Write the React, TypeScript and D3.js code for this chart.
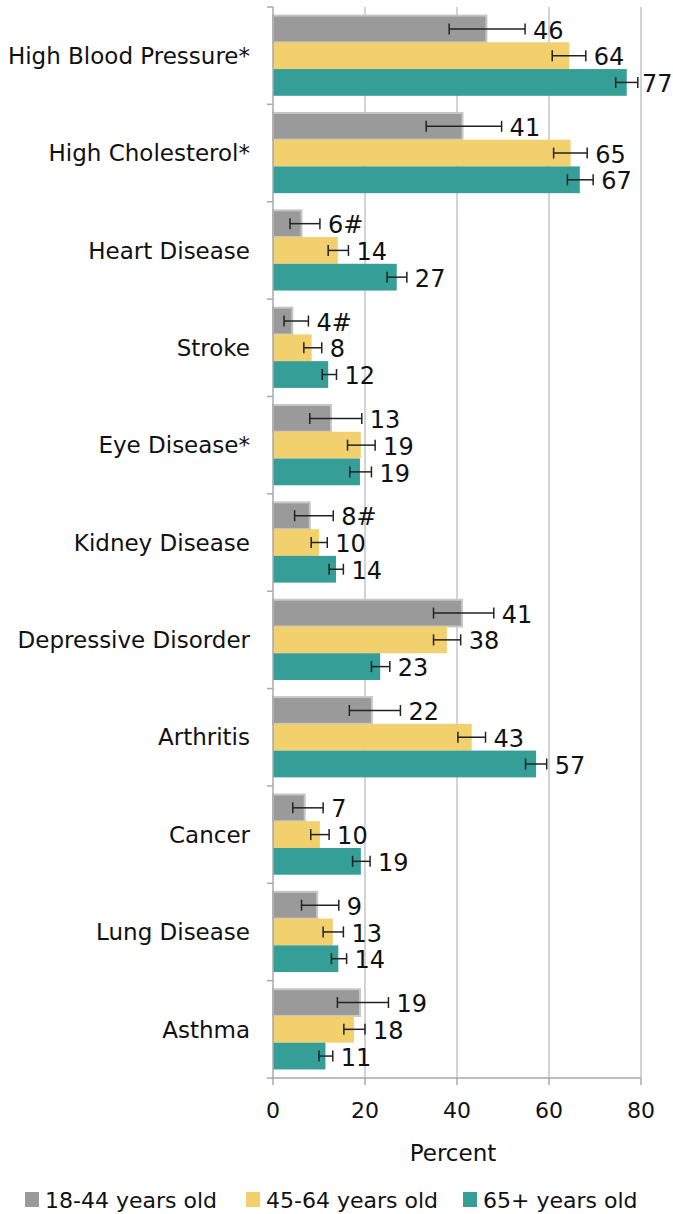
import React from "react";
import * as d3 from "d3";

const categories = [
  "High Blood Pressure*",
  "High Cholesterol*",
  "Heart Disease",
  "Stroke",
  "Eye Disease*",
  "Kidney Disease",
  "Depressive Disorder",
  "Arthritis",
  "Cancer",
  "Lung Disease",
  "Asthma",
];

const seriesNames = ["18-44 years old", "45-64 years old", "65+ years old"];
const seriesColors = ["#9a9a9a", "#f2d06e", "#359e96"];

const youngValues = [46.4, 41.2, 6.2, 4.2, 12.6, 8.0, 41.1, 21.5, 6.9, 9.6, 18.9];
const youngLow = [38.3, 33.3, 3.7, 2.4, 8.0, 4.7, 34.9, 16.6, 4.3, 6.2, 14.0];
const youngHigh = [54.8, 49.7, 10.2, 7.7, 19.3, 13.1, 48.0, 27.7, 10.9, 14.3, 25.1];
const youngLabels = ["46", "41", "6#", "4#", "13", "8#", "41", "22", "7", "9", "19"];

const midValues = [64.4, 64.7, 14.1, 8.4, 19.1, 10.0, 37.8, 43.2, 10.2, 13.0, 17.6];
const midLow = [60.7, 61.0, 12.0, 6.7, 16.2, 8.3, 34.9, 40.2, 8.2, 10.9, 15.4];
const midHigh = [68.0, 68.3, 16.4, 10.6, 22.2, 11.8, 40.8, 46.2, 12.2, 15.3, 20.0];
const midLabels = ["64", "65", "14", "8", "19", "10", "38", "43", "10", "13", "18"];

const oldValues = [76.9, 66.7, 26.9, 12.0, 18.9, 13.7, 23.3, 57.2, 19.1, 14.2, 11.4];
const oldLow = [74.5, 64.0, 24.8, 10.7, 16.7, 12.2, 21.4, 54.9, 17.3, 12.7, 10.0];
const oldHigh = [79.3, 69.6, 29.1, 13.8, 21.4, 15.3, 25.4, 59.5, 21.1, 16.0, 13.0];
const oldLabels = ["77", "67", "27", "12", "19", "14", "23", "57", "19", "14", "11"];

const xTicks = [0, 20, 40, 60, 80];

const series = [
  { values: youngValues, low: youngLow, high: youngHigh, labels: youngLabels },
  { values: midValues, low: midLow, high: midHigh, labels: midLabels },
  { values: oldValues, low: oldLow, high: oldHigh, labels: oldLabels },
];

const FONT = "'DejaVu Sans', Lato, sans-serif";

export default function App() {
  const width = 673;
  const height = 1214;
  const plot = { left: 273, right: 641, top: 7, bottom: 1078 };

  const x = d3.scaleLinear().domain([0, 80]).range([plot.left, plot.right]);
  const y = d3
    .scaleBand<string>()
    .domain(categories)
    .range([plot.top, plot.bottom])
    .padding(0);
  const inner = d3
    .scaleBand<number>()
    .domain([0, 1, 2])
    .range([0, y.bandwidth()])
    .paddingInner(0)
    .paddingOuter(0.32);

  const capH = 11;
  const legendX = [25, 246, 463];

  return (
    <svg
      width={width}
      height={height}
      style={{ position: "absolute", left: 0, top: 0, background: "#fff" }}
      fontFamily={FONT}
    >
      {/* gridlines */}
      {xTicks.slice(1).map((t) => (
        <line
          key={"g" + t}
          x1={x(t)}
          x2={x(t)}
          y1={plot.top}
          y2={plot.bottom}
          stroke="#c4c4c4"
          strokeWidth={1.5}
        />
      ))}

      {/* bars */}
      {categories.map((c, i) => (
        <g key={c} transform={`translate(0,${y(c)})`}>
          {series.map((s, k) => (
            <rect
              key={k}
              x={x(0)}
              y={inner(k)}
              width={x(s.values[i]) - x(0)}
              height={inner.bandwidth()}
              fill={seriesColors[k]}
              stroke={k === 0 ? "#c6c6c6" : "none"}
              strokeWidth={k === 0 ? 2 : 0}
            />
          ))}
          {series.map((s, k) => {
            const cy = (inner(k) as number) + inner.bandwidth() / 2;
            return (
              <g key={"e" + k} stroke="#222" strokeWidth={1.5}>
                <line x1={x(s.low[i])} x2={x(s.high[i])} y1={cy} y2={cy} />
                <line x1={x(s.low[i])} x2={x(s.low[i])} y1={cy - capH / 2} y2={cy + capH / 2} />
                <line x1={x(s.high[i])} x2={x(s.high[i])} y1={cy - capH / 2} y2={cy + capH / 2} />
              </g>
            );
          })}
          {series.map((s, k) => {
            const cy = (inner(k) as number) + inner.bandwidth() / 2;
            return (
              <text
                key={"l" + k}
                x={Math.min(x(s.high[i]) + 8, 642)}
                y={cy + 1}
                dy="0.36em"
                fontSize={24}
                fill="#111"
              >
                {s.labels[i]}
              </text>
            );
          })}
          <text
            x={250}
            y={y.bandwidth() / 2}
            dy="0.36em"
            textAnchor="end"
            fontSize={23}
            fill="#111"
          >
            {c}
          </text>
        </g>
      ))}

      {/* y axis */}
      <line x1={plot.left} x2={plot.left} y1={plot.top} y2={plot.bottom} stroke="#a8a8a8" strokeWidth={1.5} />
      {categories.map((c) => (
        <line
          key={"t" + c}
          x1={plot.left - 6}
          x2={plot.left}
          y1={y(c)}
          y2={y(c)}
          stroke="#a8a8a8"
          strokeWidth={1.5}
        />
      ))}

      {/* x axis */}
      <line x1={plot.left - 6} x2={plot.right} y1={plot.bottom} y2={plot.bottom} stroke="#a8a8a8" strokeWidth={1.5} />
      {xTicks.map((t) => (
        <g key={"x" + t}>
          <line x1={x(t)} x2={x(t)} y1={plot.bottom} y2={plot.bottom + 7} stroke="#a8a8a8" strokeWidth={1.5} />
          <text x={x(t)} y={1110} dy="0.36em" textAnchor="middle" fontSize={22} fill="#111">
            {t}
          </text>
        </g>
      ))}
      <text x={453} y={1153} dy="0.36em" textAnchor="middle" fontSize={23} fill="#111">
        Percent
      </text>

      {/* legend */}
      {seriesNames.map((n, k) => (
        <g key={n}>
          <rect x={legendX[k]} y={1192} width={14} height={15} fill={seriesColors[k]} />
          <text x={legendX[k] + 20} y={1200} dy="0.36em" fontSize={22} fill="#111">
            {n}
          </text>
        </g>
      ))}
    </svg>
  );
}
